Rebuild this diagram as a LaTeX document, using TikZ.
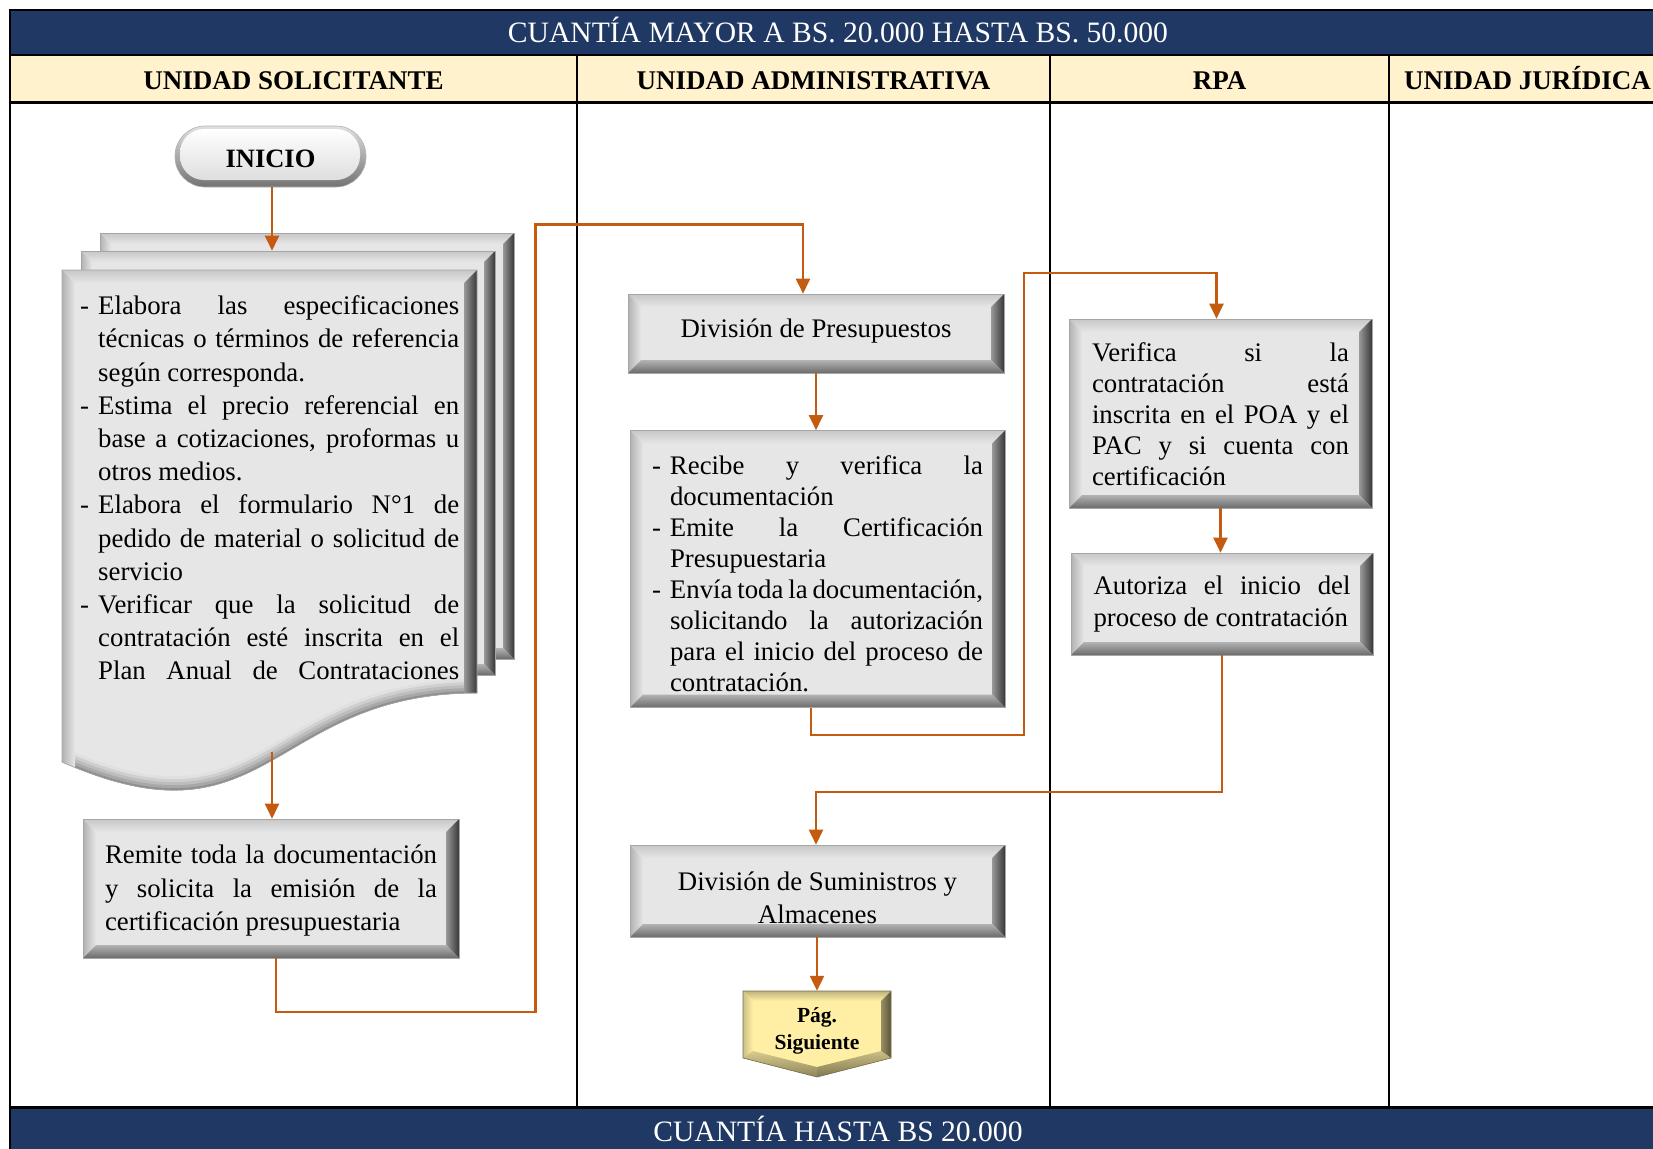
\documentclass[tikz,border=0pt]{standalone}
\usepackage{fontspec}
\setmainfont{Liberation Serif}
\usetikzlibrary{arrows.meta}

\definecolor{navy}{RGB}{31,56,100}
\definecolor{headyel}{RGB}{255,242,204}
\definecolor{flow}{RGB}{197,90,17}
\definecolor{face}{RGB}{230,230,230}
\definecolor{yface}{RGB}{255,239,165}

% text helpers: justified line, last line of a paragraph, hanging dash
\newcommand\bodyfont[1]{\fontsize{26.8}{#1}\selectfont}
\newcommand\justln[2]{\makebox[#1][s]{#2}}
\newcommand\lastln[2]{\makebox[#1][l]{#2}}
\newcommand\dashitem{\makebox[18pt][l]{-}}
\newcommand\indentbox{\makebox[18pt]{}}
\newcommand\lift[1]{\rule{0pt}{#1}}

% bevel bands of a 3D box, drawn inside the node's own path
\newcommand\bevelbands{%
  \path (path picture bounding box.north west) coordinate (bnw)
        (path picture bounding box.north east) coordinate (bne)
        (path picture bounding box.south west) coordinate (bsw)
        (path picture bounding box.south east) coordinate (bse);
  \shade[top color=black!22, middle color=white, bottom color=face]
    (bnw) -- (bne) -- ([shift={(-\bw,-\bw)}]bne) -- ([shift={(\bw,-\bw)}]bnw) -- cycle;
  \shade[left color=black!30, right color=face]
    (bnw) -- ([shift={(\bw,-\bw)}]bnw) -- ([shift={(\bw,\bw)}]bsw) -- (bsw) -- cycle;
  \shade[left color=black!40, right color=black!78]
    (bne) -- (bse) -- ([shift={(-\bw,\bw)}]bse) -- ([shift={(-\bw,-\bw)}]bne) -- cycle;
  \shade[top color=black!30, bottom color=black!58]
    (bsw) -- ([shift={(\bw,\bw)}]bsw) -- ([shift={(-\bw,\bw)}]bse) -- (bse) -- cycle;
}

\tikzset{
  bevel width/.store in=\bw, bevel width=13pt,
  bevelbox/.style={rectangle, inner sep=0pt, fill=face, draw=black!35,
    line width=0.6pt, path picture={\bevelbands}},
  grid/.style={draw=black, line width=1.8pt},
  headtxt/.style={anchor=base, font=\fontsize{27}{30}\selectfont\bfseries},
  bandtxt/.style={anchor=base, text=white, font=\fontsize{29.6}{34}\selectfont},
  conn/.style={draw=flow, line width=2.2pt, -{Triangle[length=15pt,width=14pt]}},
  startpill/.style={rectangle, rounded corners=30pt, minimum width=191pt,
    minimum height=61pt, draw=black!30, line width=0.6pt,
    top color=black!12, bottom color=black!55,
    font=\fontsize{26.5}{30}\selectfont\bfseries,
    path picture={
      \path (path picture bounding box.north west) coordinate (pnw)
            (path picture bounding box.south east) coordinate (pse);
      \shade[rounded corners=24pt, top color=white, bottom color=black!13]
        ([shift={(5pt,-3pt)}]pnw) rectangle ([shift={(-6pt,7pt)}]pse);
    }},
}

\begin{document}
\begin{tikzpicture}[x=1pt,y=-1pt]
\useasboundingbox (0,0) rectangle (1653,1148);
\clip (0,0) rectangle (1653,1148);

% ---------- table ----------
\fill[navy] (10,10) rectangle (1666,55);
\fill[headyel] (10,55) rectangle (1666,102.5);
\fill[navy] (10,1107) rectangle (1666,1160);
\draw[grid] (10,10) -- (1666,10);
\draw[grid] (10,55) -- (1666,55);
\draw[grid, line width=2.6pt] (10,102.5) -- (1666,102.5);
\draw[grid, line width=3pt] (10,1107) -- (1666,1107);
\draw[grid] (10,9.1) -- (10,1160);
\foreach \cx in {577,1050,1389} \draw[grid] (\cx,55) -- (\cx,1107);

\node[bandtxt] (title) at (838,42.3) {CUANTÍA MAYOR A BS. 20.000 HASTA BS. 50.000};
\node[headtxt] (hsol) at (293.5,89) {UNIDAD SOLICITANTE};
\node[headtxt] (hadm) at (813.5,89) {UNIDAD ADMINISTRATIVA};
\node[headtxt] (hrpa) at (1219.5,89) {RPA};
\node[headtxt] (hjur) at (1527.5,89) {UNIDAD JURÍDICA};
\node[bandtxt] (foot) at (838,1141.7) {CUANTÍA HASTA BS 20.000};

% ---------- start ----------
\node[startpill] (inicio) at (270.5,156.5) {\lift{21.5pt}INICIO};

% ---------- stacked documents ----------
\node[bevelbox, bevel width=11pt, minimum width=414pt, minimum height=426pt] (pageback) at (307,446) {};
\node[bevelbox, bevel width=11pt, minimum width=414pt, minimum height=424pt] (pagemid) at (288,463) {};
\begin{scope}
  \clip (62,270) -- (477,270) -- (477,693) .. controls (269.5,693) and (269.5,853.6) .. (62,762) -- cycle;
  \fill[face] (50,260) rectangle (490,870);
  \foreach \w/\c in {28/12,22/19,16/26,10/34,4/44}
    \draw[line width=\w pt, black!\c] (477,693) .. controls (269.5,693) and (269.5,853.6) .. (62,762);
  \shade[top color=black!22, middle color=white, bottom color=face]
    (62,270) -- (477,270) -- (464,283) -- (75,283) -- cycle;
  \shade[left color=black!30, right color=face]
    (62,270) -- (75,283) -- (75,775) -- (62,775) -- cycle;
  \shade[left color=black!40, right color=black!78]
    (477,270) -- (477,700) -- (464,700) -- (464,283) -- cycle;
\end{scope}
\draw[black!35, line width=0.6pt] (62,270) -- (477,270) -- (477,693) .. controls (269.5,693) and (269.5,853.6) .. (62,762) -- cycle;

\node[anchor=west, inner sep=0pt, align=left, font=\bodyfont{33.2}] (doctext) at (80,488) {%
\dashitem\justln{361pt}{Elabora las especificaciones}\\
\indentbox\justln{361pt}{técnicas o términos de referencia}\\
\indentbox\lastln{361pt}{según corresponda.}\\
\dashitem\justln{361pt}{Estima el precio referencial en}\\
\indentbox\justln{361pt}{base a cotizaciones, proformas u}\\
\indentbox\lastln{361pt}{otros medios.}\\
\dashitem\justln{361pt}{Elabora el formulario N°1 de}\\
\indentbox\justln{361pt}{pedido de material o solicitud de}\\
\indentbox\lastln{361pt}{servicio}\\
\dashitem\justln{361pt}{Verificar que la solicitud de}\\
\indentbox\justln{361pt}{contratación esté inscrita en el}\\
\indentbox\justln{361pt}{Plan Anual de Contrataciones}};

% ---------- process boxes ----------
\node[bevelbox, minimum width=376pt, minimum height=139pt, align=left, font=\bodyfont{33.5}] (remite) at (271,888.5) {%
\lift{23pt}\justln{332pt}{Remite toda la documentación}\\
\justln{332pt}{y solicita la emisión de la}\\
\lastln{332pt}{certificación presupuestaria}};

\node[bevelbox, minimum width=376pt, minimum height=79pt, font=\bodyfont{31}] (presup) at (816,333.5) {\rule[-10pt]{0pt}{0pt}División de Presupuestos};

\node[bevelbox, minimum width=375pt, minimum height=277pt, align=left, font=\bodyfont{31}] (recibe) at (817.5,569) {%
\lift{27.5pt}\dashitem\justln{313pt}{Recibe y verifica la}\\
\indentbox\lastln{313pt}{documentación}\\
\dashitem\justln{313pt}{Emite la Certificación}\\
\indentbox\lastln{313pt}{Presupuestaria}\\
\dashitem\justln{313pt}{Envía toda la documentación,}\\
\indentbox\justln{313pt}{solicitando la autorización}\\
\indentbox\justln{313pt}{para el inicio del proceso de}\\
\indentbox\lastln{313pt}{contratación.}};

\node[bevelbox, minimum width=375pt, minimum height=92pt, align=center, font=\bodyfont{33}] (sumin) at (817.5,891) {\lift{33pt}División de Suministros y\\Almacenes};

\node[bevelbox, minimum width=303pt, minimum height=189pt, align=left, font=\bodyfont{31}] (verif) at (1220.5,413.5) {%
\lift{21pt}\justln{257pt}{Verifica si la}\\
\justln{257pt}{contratación está}\\
\justln{257pt}{inscrita en el POA y el}\\
\justln{257pt}{PAC y si cuenta con}\\
\lastln{257pt}{certificación}};

\node[bevelbox, minimum width=302pt, minimum height=102pt, align=left, font=\bodyfont{32}] (autor) at (1222,604) {%
\justln{257pt}{Autoriza el inicio del}\\
\lastln{257pt}{proceso de contratación}};

% ---------- off-page connector ----------
\path (743,991) coordinate (pa) (891,991) coordinate (pb) (891,1058) coordinate (pc)
      (817,1077) coordinate (pd) (743,1058) coordinate (pe)
      (753,1001) coordinate (qa) (881,1001) coordinate (qb) (881,1051) coordinate (qc)
      (817,1067) coordinate (qd) (753,1051) coordinate (qe);
\fill[yface] (pa) -- (pb) -- (pc) -- (pd) -- (pe) -- cycle;
\shade[top color=yface!75!black, middle color=yface!40!white, bottom color=yface] (pa) -- (pb) -- (qb) -- (qa) -- cycle;
\shade[left color=yface!80!black, right color=yface] (pa) -- (qa) -- (qe) -- (pe) -- cycle;
\shade[left color=yface!60!black, right color=yface!35!black] (pb) -- (pc) -- (qc) -- (qb) -- cycle;
\shade[top color=yface!85!black, bottom color=yface!55!black] (pe) -- (qe) -- (qd) -- (pd) -- cycle;
\shade[top color=yface!80!black, bottom color=yface!50!black] (pd) -- (qd) -- (qc) -- (pc) -- cycle;
\draw[yface!45!black, line width=0.6pt] (pa) -- (pb) -- (pc) -- (pd) -- (pe) -- cycle;
\node[minimum width=148pt, minimum height=74pt, inner sep=0pt, align=center,
      font=\fontsize{21.5}{27}\selectfont\bfseries] (pag) at (817,1028) {\lift{21.5pt}Pág.\\Siguiente};

% ---------- connectors ----------
\coordinate (d0) at (272,0);
\coordinate (dw) at (272,752);
\coordinate (r1) at (276,1012);
\coordinate (r2) at (535.5,1012);
\coordinate (r3) at (535.5,224.5);
\coordinate (r4) at (803,224.5);
\coordinate (v1) at (811,735);
\coordinate (v2) at (1023.6,735);
\coordinate (v3) at (1023.6,273);
\coordinate (v4) at (1216.5,273);
\coordinate (a1) at (1222,792);
\coordinate (a2) at (816,792);

\draw[conn] (inicio.south -| d0) -- (pagemid.north -| d0);
\draw[conn] (dw) -- (remite.north -| dw);
\draw[conn] (remite.south -| r1) -- (r1) -- (r2) -- (r3) -- (r4) -- (presup.north -| r4);
\draw[conn] (presup.south) -- (recibe.north -| presup.south);
\draw[conn] (recibe.south -| v1) -- (v1) -- (v2) -- (v3) -- (v4) -- (verif.north -| v4);
\draw[conn] (verif.south) -- (autor.north -| verif.south);
\draw[conn] (autor.south -| a1) -- (a1) -- (a2) -- (sumin.north -| a2);
\draw[conn] (sumin.south -| pag.north) -- (pag.north);
\end{tikzpicture}
\end{document}
